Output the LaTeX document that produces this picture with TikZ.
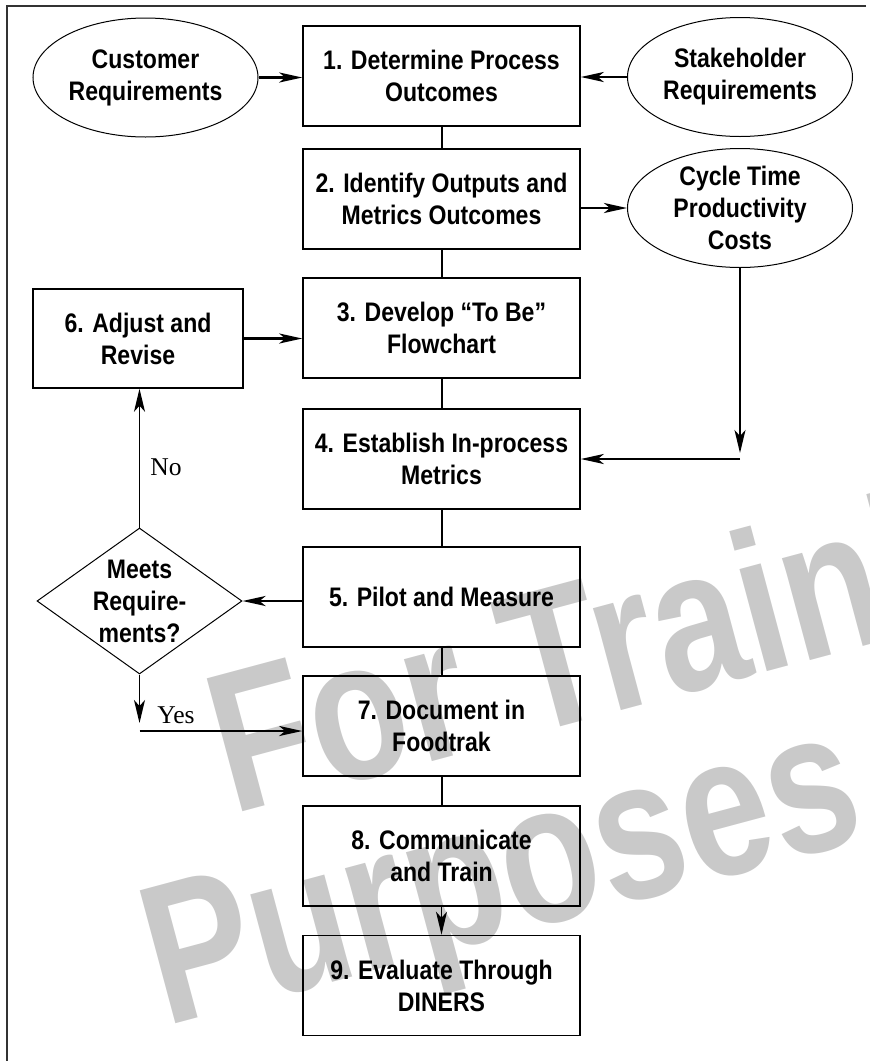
\documentclass[tikz,border=0pt]{standalone}
\usepackage{fontspec}
\setmainfont{Liberation Sans}[FakeStretch=0.86]
\newfontfamily\notafont{Liberation Serif}
\newfontfamily\filigranafont{Liberation Sans}[FakeStretch=0.8]
\usetikzlibrary{shapes.geometric, arrows.meta, positioning}

\begin{document}
\begin{tikzpicture}[
  x=0.5pt, y=-0.5pt,
  font=\fontsize{13.4}{16}\selectfont\bfseries,
  passo/.style={draw=black, line width=0.75pt, align=center,
                minimum width=138.5pt, minimum height=50pt, inner sep=2pt},
  fonte/.style={ellipse, draw=black, line width=0.5pt, align=center,
                minimum width=112.5pt, minimum height=59.5pt, inner sep=-5pt},
  decisione/.style={diamond, draw=black, line width=0.5pt, align=center,
                minimum width=102.5pt, minimum height=73pt, inner sep=-10pt},
  linea/.style={draw=black, line width=1pt},
  freccia/.style={draw=black, line width=1.3pt, -{Stealth[length=11.5pt,width=5pt,inset=3pt]}},
  frecciav/.style={draw=black, line width=0.85pt, -{Stealth[length=11.5pt,width=5.5pt,inset=3pt]}},
  nota/.style={font=\notafont\fontsize{12.8}{15.5}\selectfont, anchor=west, inner sep=0pt},
  filigrana/.style={font=\filigranafont\fontsize{100}{100}\selectfont\bfseries, text=black!21,
                    rotate=15, anchor=base west, inner sep=0pt}
]
\useasboundingbox (0,0) rectangle (869,1061);

% filigrana
\begin{scope}
  \clip (7,6) rectangle (869,1061);
  \node[filigrana] (wmA) at (232,815)  {For Training};
  \node[filigrana] (wmB) at (165,1027) {Purposes};
\end{scope}

% passi del processo
\node[passo] (P1) at (441.5,76)    {1. Determine Process\\ Outcomes};
\node[passo] (P2) at (441.5,199)   {2. Identify Outputs and\\ Metrics Outcomes};
\node[passo] (P3) at (441.5,328)   {3. Develop ``To Be''\\ Flowchart};
\node[passo] (P4) at (441.5,459)   {4. Establish In-process\\ Metrics};
\node[passo] (P5) at (441.5,597)   {5. Pilot and Measure};
\node[passo] (P7) at (441.5,726)   {7. Document in\\ Foodtrak};
\node[passo] (P8) at (441.5,856)   {8. Communicate\\ and Train};
\node[passo] (P9) at (441.5,985.5) {9. Evaluate Through\\ DINERS};
\node[passo, minimum width=105pt, minimum height=49.5pt] (P6) at (138,338.5) {6. Adjust and\\ Revise};

% ingressi
\node[fonte] (Cust)  at (145.5,77.5) {Customer\\ Requirements};
\node[fonte] (Stake) at (740,77)     {Stakeholder\\ Requirements};
\node[fonte] (Cycle) at (740,208)    {Cycle Time\\ Productivity\\ Costs};

% decisione
\node[decisione] (Q) at (139.5,601) {Meets\\ Require-\\ ments?};

% collegamenti
\draw[freccia] (Cust.east) -- (Cust.east -| P1.west);
\draw[freccia] (Stake.west) -- (Stake.west -| P1.east);
\draw[linea] (P1.south) -- (P2.north);
\draw[linea] (P2.south) -- (P3.north);
\draw[linea] (P3.south) -- (P4.north);
\draw[linea] (P4.south) -- (P5.north);
\draw[linea] (P5.south) -- (P7.north);
\draw[linea] (P7.south) -- (P8.north);
\draw[frecciav] (P8.south) -- (P9.north);
\draw[freccia] (P2.east |- Cycle.west) -- (Cycle.west);

\coordinate (gomito) at (Cycle.south |- P4.east);
\draw[frecciav] (Cycle.south) -- ([yshift=3pt]gomito);
\draw[freccia] (gomito) -- (P4.east);

\draw[freccia] (P6.east) -- (P6.east -| P3.west);
\draw[freccia] (P5.west |- Q.east) -- (Q.east);
\draw[frecciav] (Q.north) -- (Q.north |- P6.south);
\node[nota] (lNo) at (150,467) {No};

\coordinate (yes) at ([yshift=-2.5pt]Q.south |- P7.west);
\draw[frecciav] (Q.south) -- ([yshift=4pt]yes);
\draw[freccia] (yes) -- (yes -| P7.west);
\node[nota] (lYes) at (157,715) {Yes};

% cornice
\draw[line width=1pt, black!80] (866,6) -- (7,6) -- (7,1061);

\end{tikzpicture}
\end{document}
